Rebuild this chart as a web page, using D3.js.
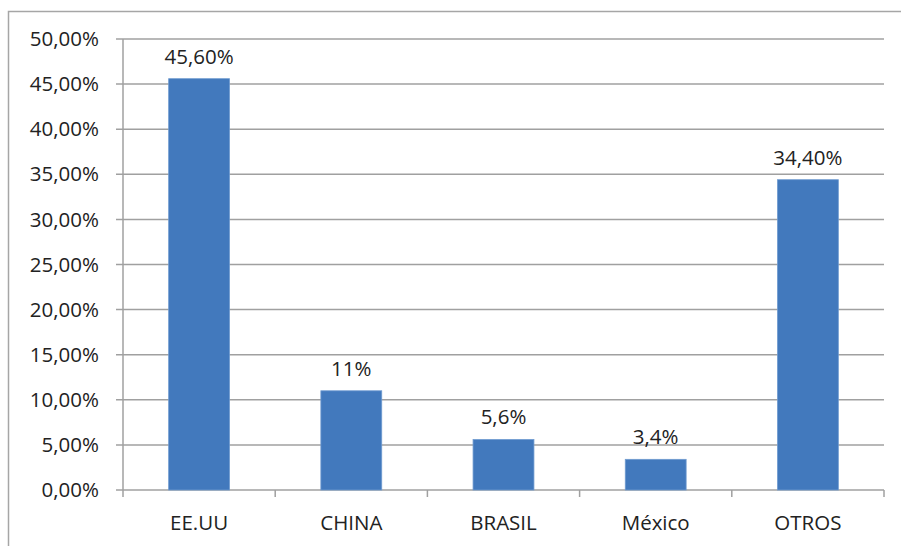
<!DOCTYPE html>
<html><head><meta charset="utf-8">
<script src="https://cdn.jsdelivr.net/npm/d3@7"></script>
<style>body{margin:0;background:#fff}svg{display:block}</style>
</head><body>
<svg id="c" width="901" height="546"></svg>
<script>
const categories = ["EE.UU","CHINA","BRASIL","México","OTROS"];
const values = [45.6, 11, 5.6, 3.4, 34.4];
const valueLabels = ["45,60%","11%","5,6%","3,4%","34,40%"];
const yTicks = [0,5,10,15,20,25,30,35,40,45,50];

const svg = d3.select("#c");
const font = "'Open Sans', sans-serif";
const fs = 20.5;
const pLeft = 123, pRight = 884, pTop = 39, pBottom = 490;

svg.append("rect").attr("x",8.5).attr("y",11.5).attr("width",920).attr("height",560)
  .attr("fill","none").attr("stroke","#a6a6a6").attr("stroke-width",1.5);

const x = d3.scaleBand().domain(categories).range([pLeft,pRight]).paddingInner(0.6).paddingOuter(0.3);
const y = d3.scaleLinear().domain([0,50]).range([pBottom,pTop]);

// gridlines
svg.append("g").selectAll("line").data(yTicks).join("line")
  .attr("x1",pLeft-7).attr("x2",pRight).attr("y1",d=>y(d)).attr("y2",d=>y(d))
  .attr("stroke","#a0a0a0").attr("stroke-width",1.5);

// y axis line
svg.append("line").attr("x1",pLeft).attr("x2",pLeft).attr("y1",pTop).attr("y2",pBottom)
  .attr("stroke","#a0a0a0").attr("stroke-width",1.5);

// y labels
svg.append("g").selectAll("text").data(yTicks).join("text")
  .attr("x",99).attr("y",d=>y(d)).attr("dy","0.35em").attr("text-anchor","end")
  .attr("font-family",font).attr("font-size",fs).attr("fill","#222")
  .text(d=>d3.format(".2f")(d).replace(".",",")+"%");

// x ticks at boundaries
const bounds = d3.range(categories.length+1).map(i=>pLeft+i*(pRight-pLeft)/categories.length);
svg.append("g").selectAll("line").data(bounds).join("line")
  .attr("x1",d=>d).attr("x2",d=>d).attr("y1",pBottom).attr("y2",pBottom+7)
  .attr("stroke","#a0a0a0").attr("stroke-width",1.5);

// bars
svg.append("g").selectAll("rect").data(values).join("rect")
  .attr("x",(d,i)=>x(categories[i])).attr("width",x.bandwidth())
  .attr("y",d=>y(d)).attr("height",d=>pBottom-y(d))
  .attr("fill","#4279bd").attr("stroke","#6f9bd0").attr("stroke-width",0.8);

// value labels
svg.append("g").selectAll("text").data(values).join("text")
  .attr("x",(d,i)=>x(categories[i])+x.bandwidth()/2).attr("y",d=>y(d)-15)
  .attr("text-anchor","middle").attr("font-family",font).attr("font-size",fs).attr("fill","#222")
  .text((d,i)=>valueLabels[i]);

// category labels
svg.append("g").selectAll("text").data(categories).join("text")
  .attr("x",d=>x(d)+x.bandwidth()/2).attr("y",530)
  .attr("text-anchor","middle").attr("font-family",font).attr("font-size",fs).attr("fill","#222")
  .text(d=>d);
</script>
</body></html>
